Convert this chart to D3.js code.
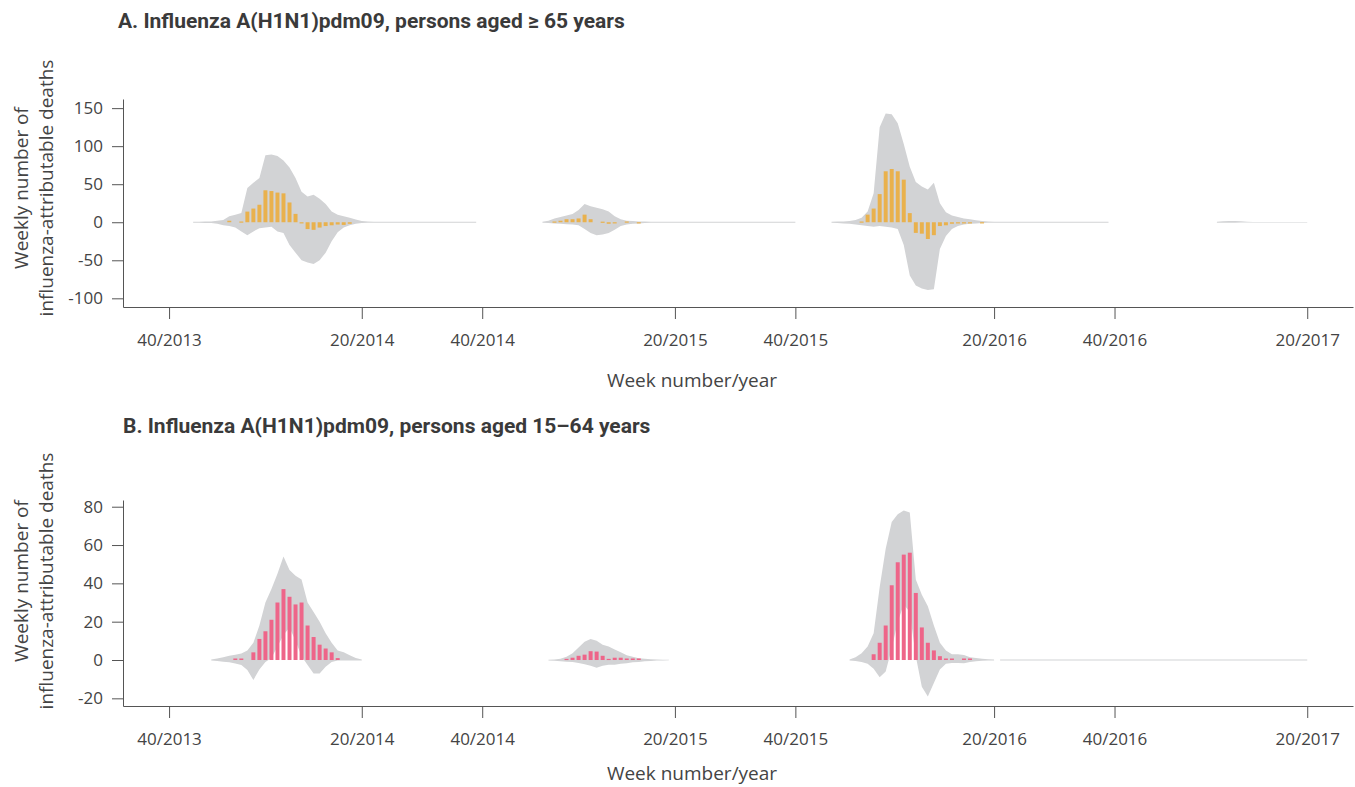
<!DOCTYPE html>
<html>
<head>
<meta charset="utf-8">
<script src="https://cdn.jsdelivr.net/npm/d3@7"></script>
<style>
  body { margin: 0; background: #fff; }
  text { font-family: "Open Sans", sans-serif; fill: #444; }
  .title { font-family: Roboto, sans-serif; font-weight: 700; fill: #3a3a3a; }
</style>
</head>
<body>
<div id="chart"></div>
<script>
// week index, counted from week 40/2013 (= 0)
const tickWeeks = [0, 32, 52, 84, 104, 137, 157, 189];
const tickLabels = ["40/2013", "20/2014", "40/2014", "20/2015", "40/2015", "20/2016", "40/2016", "20/2017"];

// A. persons aged >= 65 years (one array per season, starting at startA[s])
const startA = [4, 62, 110, 174];
const deathsA = [
  [0, 0, 0, 0, 0, 0, 2, 0, 1, 14, 18, 23, 42, 41, 39, 38, 26, 11, -1, -9, -10, -7, -5, -4, -3, -3.5, -2],
  [0, 0, 1, 2, 4, 4, 5, 10, 4, 0, 0.8, -2, -1, 0, 1, 0, -1],
  [0, 0, 0, 0, 0, 1, 10, 18, 37, 67, 70, 67, 56, 12, -14, -15, -22, -17, -5, -4, -2, -1.5, -1, -1, 0, -1],
  []
];
const upperA = [
  [0.5, 0.5, 1, 1, 2, 3, 8, 10, 12, 45, 52, 58, 88, 89, 87, 81, 72, 58, 40, 34, 36, 31, 24, 14, 10, 8, 6, 3.5, 1.5, 1, 0.8,
   0.5, 0.5, 0.5, 0.5, 0.5, 0.5, 0.5, 0.5, 0.5, 0.5, 0.5, 0.5, 0.5, 0.5, 0.5, 0.5, 0.5],
  [0.5, 2, 5, 7, 9, 11, 16, 24, 21, 19, 17, 14, 8, 4, 2, 1.5, 1, 1, 0.8, 0.6,
   0.5, 0.5, 0.5, 0.5, 0.5, 0.5, 0.5, 0.5, 0.5, 0.5, 0.5, 0.5, 0.5, 0.5, 0.5, 0.5, 0.5, 0.5, 0.5, 0.5, 0.5, 0.5, 0.5],
  [0.5, 1, 1, 1.5, 3, 6, 14, 38, 125, 143, 142, 130, 103, 73, 53, 47, 43, 52, 25, 13, 9, 7, 5, 4, 2.5, 1.5, 1, 0.8,
   0.5, 0.5, 0.5, 0.5, 0.5, 0.5, 0.5, 0.5, 0.5, 0.5, 0.5, 0.5, 0.5, 0.5, 0.5, 0.5, 0.5, 0.5, 0.5],
  [0.5, 1.2, 1.5, 1.5, 1.2, 0.8, 0.4, 0.4, 0.4, 0.4, 0.4, 0.4, 0.4, 0.4, 0.4, 0.4]
];
const lowerA = [
  [-0.5, -0.5, -1, -1, -2, -4, -5, -7, -12, -17, -12, -8, -7, -6, -12, -14, -30, -40, -50, -53, -55, -50, -40, -25, -13, -7, -4, -2, -1, -0.8,
   -0.5, -0.5, -0.5, -0.5, -0.5, -0.5, -0.5, -0.5, -0.5, -0.5, -0.5, -0.5, -0.5, -0.5, -0.5, -0.5, -0.5, -0.5],
  [-0.5, -1, -1.5, -2, -2.5, -3, -4, -9, -14, -17, -16, -14, -10, -5, -3, -2, -1.5, -1, -0.8, -0.6,
   -0.5, -0.5, -0.5, -0.5, -0.5, -0.5, -0.5, -0.5, -0.5, -0.5, -0.5, -0.5, -0.5, -0.5, -0.5, -0.5, -0.5, -0.5, -0.5, -0.5, -0.5, -0.5, -0.5],
  [-0.5, -1, -1.5, -2, -3, -4, -5, -6, -5, -6, -7, -9, -30, -70, -83, -87, -89, -88, -35, -18, -9, -5, -3, -2, -1.5, -1, -0.8, -0.6,
   -0.5, -0.5, -0.5, -0.5, -0.5, -0.5, -0.5, -0.5, -0.5, -0.5, -0.5, -0.5, -0.5, -0.5, -0.5, -0.5, -0.5, -0.5, -0.5],
  [-0.5, -0.6, -0.6, -0.5, -0.4, -0.4, -0.4, -0.4, -0.4, -0.4, -0.4, -0.4, -0.4, -0.4, -0.4, -0.4]
];

// B. persons aged 15-64 years
const startB = [7, 63, 113, 138];
const deathsB = [
  [0, 0, 0, 0, 0.8, 0.8, 0, 4, 11, 15, 21, 30, 37, 33, 29, 30, 18, 12, 8, 6, 4, 1],
  [0, 0, 0, 0.6, 1.2, 2.2, 2.8, 4.6, 4.4, 2.2, 0.6, 1.2, 1.2, 0.8, 0.8, 0.8],
  [0, 0, 0, 0, 3, 9, 18, 39, 51, 55, 56, 35, 17, 9, 5, 2, 0.8, 0.8, 0, 0.8, 0.8],
  []
];
const upperB = [
  [0.3, 0.8, 1.5, 2.2, 2.8, 3.4, 5, 9, 18, 30, 37, 45, 54, 47, 44, 42, 30, 25, 20, 14, 9, 5, 4, 2.5, 1, 0.3],
  [0.2, 0.3, 0.6, 1.7, 3.5, 6.5, 9.5, 11, 10, 8, 7, 5.5, 4, 2.5, 1.7, 0.9, 0.6, 0.4, 0.3, 0.2, 0.1],
  [0.3, 1.5, 3.5, 7, 14, 38, 58, 72, 76, 78, 77, 42, 34, 28, 18, 9, 5, 3, 3, 2.6, 1.5, 1, 0.6, 0.4, 0.3],
  [0.3, 0.3, 0.3, 0.3, 0.3, 0.3, 0.3, 0.3, 0.3, 0.3, 0.3, 0.3, 0.3, 0.3, 0.3, 0.3, 0.3, 0.3, 0.3, 0.3, 0.3, 0.3, 0.3, 0.3, 0.3, 0.3,
   0.3, 0.3, 0.3, 0.3, 0.3, 0.3, 0.3, 0.3, 0.3, 0.3, 0.3, 0.3, 0.3, 0.3, 0.3, 0.3, 0.3, 0.3, 0.3, 0.3, 0.3, 0.3, 0.3, 0.3, 0.3, 0.3]
];
const lowerB = [
  [-0.2, -0.5, -0.9, -1.2, -1.8, -2.6, -5.2, -10.4, -5, -1, 1, 7, 13, 17, 10, 2, -2.6, -7, -7, -3.5, -1, -0.3, -0.2, -0.2, -0.2, -0.2],
  [-0.2, -0.4, -0.6, -0.9, -1, -1.5, -2.2, -3, -4, -3, -2.5, -2.5, -2, -1.7, -1.2, -1, -0.7, -0.5, -0.3, -0.2, -0.1],
  [-0.3, -0.5, -1, -2, -4.5, -9, -6, 6, 20, 29, 25, 2, -14, -19, -12, -5, -2, -1.5, -1.5, -1.7, -1, -0.6, -0.4, -0.3, -0.3],
  [-0.3, -0.3, -0.3, -0.3, -0.3, -0.3, -0.3, -0.3, -0.3, -0.3, -0.3, -0.3, -0.3, -0.3, -0.3, -0.3, -0.3, -0.3, -0.3, -0.3, -0.3, -0.3, -0.3, -0.3, -0.3, -0.3,
   -0.3, -0.3, -0.3, -0.3, -0.3, -0.3, -0.3, -0.3, -0.3, -0.3, -0.3, -0.3, -0.3, -0.3, -0.3, -0.3, -0.3, -0.3, -0.3, -0.3, -0.3, -0.3, -0.3, -0.3, -0.3, -0.3]
];

const ticksA = [-100, -50, 0, 50, 100, 150];
const ticksB = [-20, 0, 20, 40, 60, 80];

const width = 1355, height = 787;
const svg = d3.select('#chart').append('svg')
    .attr('width', width)
    .attr('height', height);

const x = d3.scaleLinear().domain([-7.65, 196.6]).range([123, 1353]);
const band = '#d2d3d5';

function drawPanel(p) {
    const y = d3.scaleLinear().domain(p.yDomain).range([p.bottom, p.top]);
    const g = svg.append('g');

    // grey uncertainty band, one area per season
    p.starts.forEach((s, k) => {
        const pts = p.upper[k].map((u, j) => ({ w: s + j, u: u, l: p.lower[k][j] }));
        g.append('path')
            .datum(pts)
            .attr('fill', band)
            .attr('d', d3.area().x(d => x(d.w)).y0(d => y(d.l)).y1(d => y(d.u)));
    });

    // weekly bars
    const bw = (x(1) - x(0)) * 0.66;
    const bars = [];
    p.starts.forEach((s, k) => p.deaths[k].forEach((v, j) => { if (v !== 0) bars.push({ w: s + j, v: v }); }));
    g.selectAll('.bar')
        .data(bars)
        .enter()
        .append('rect')
        .attr('class', 'bar')
        .attr('x', d => x(d.w) - bw / 2)
        .attr('y', d => Math.min(y(d.v), y(0)))
        .attr('width', bw)
        .attr('height', d => Math.max(1.2, Math.abs(y(d.v) - y(0))))
        .attr('fill', p.color);

    // axes
    const xa = g.append('g')
        .attr('transform', `translate(0,${p.bottom})`)
        .call(d3.axisBottom(x).tickValues(tickWeeks).tickFormat((d, i) => tickLabels[i])
            .tickSize(12).tickSizeOuter(0).tickPadding(15));
    const ya = g.append('g')
        .attr('transform', `translate(${x.range()[0]},0)`)
        .call(d3.axisLeft(y).tickValues(p.ticks).tickFormat(d => String(d))
            .tickSize(11).tickSizeOuter(0).tickPadding(9));
    [xa, ya].forEach(a => {
        a.attr('font-family', null).attr('font-size', null);
        a.selectAll('path, line').attr('stroke', '#555');
        a.selectAll('text').style('font-size', '17px').attr('fill', '#444');
    });

    // titles
    g.append('text')
        .attr('class', 'title')
        .attr('x', p.titleX)
        .attr('y', p.titleY)
        .style('font-size', '21px')
        .text(p.title);

    g.append('text')
        .attr('x', 692)
        .attr('y', p.xTitleY)
        .attr('text-anchor', 'middle')
        .style('font-size', '19px')
        .text('Week number/year');

    ['Weekly number of', 'influenza-attributable deaths'].forEach((t, i) => {
        g.append('text')
            .attr('transform', 'rotate(-90)')
            .attr('x', -p.labelMid)
            .attr('y', 28 + i * 25)
            .attr('text-anchor', 'middle')
            .style('font-size', '19px')
            .text(t);
    });
}

drawPanel({
    title: 'A. Influenza A(H1N1)pdm09, persons aged \u2265 65 years',
    titleX: 118, titleY: 28,
    top: 99, bottom: 307, yDomain: [-111.4, 162], ticks: ticksA, labelMid: 188, xTitleY: 387,
    starts: startA, deaths: deathsA, upper: upperA, lower: lowerA,
    color: '#e9b14d'
});

drawPanel({
    title: 'B. Influenza A(H1N1)pdm09, persons aged 15\u201364 years',
    titleX: 123, titleY: 433,
    top: 500, bottom: 706, yDomain: [-24, 83.5], ticks: ticksB, labelMid: 581, xTitleY: 780,
    starts: startB, deaths: deathsB, upper: upperB, lower: lowerB,
    color: '#ee6589'
});
</script>
</body>
</html>
